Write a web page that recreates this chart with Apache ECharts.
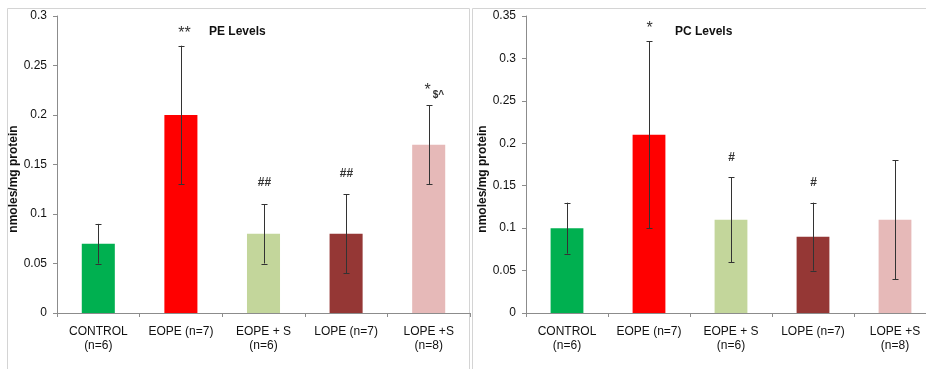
<!DOCTYPE html>
<html>
<head>
<meta charset="utf-8">
<script src="https://cdn.jsdelivr.net/npm/echarts@6/dist/echarts.min.js"></script>
<style>
html,body{margin:0;padding:0;background:#fff;overflow:hidden;}
#main{width:940px;height:369px;}
</style>
</head>
<body>
<div id="main"></div>
<script>
// ---- data ----
var categories = ['CONTROL\n(n=6)', 'EOPE (n=7)', 'EOPE + S\n(n=6)', 'LOPE (n=7)', 'LOPE +S\n(n=8)'];
var barColors = ['#00B050', '#FF0000', '#C3D69B', '#953735', '#E6B9B8'];

var peMeans = [0.07, 0.20, 0.08, 0.08, 0.17];
var peErr   = [0.02, 0.07, 0.03, 0.04, 0.04];
var peMarks = ['', '**', '##', '##', '*'];
var peSub   = ['', '', '', '', '$^'];

var pcMeans = [0.10, 0.21, 0.11, 0.09, 0.11];
var pcErr   = [0.03, 0.11, 0.05, 0.04, 0.07];
var pcMarks = ['', '*', '#', '#', ''];
var pcSub   = ['', '', '', '', ''];

var peTicks = [0, 0.05, 0.1, 0.15, 0.2, 0.25, 0.3];
var pcTicks = [0, 0.05, 0.1, 0.15, 0.2, 0.25, 0.3, 0.35];

// ---- styling (pixel offsets of annotation marks above error-bar tops) ----
var peMarkOffset = [0, 15, 21, 21, 18];
var pcMarkOffset = [0, 16, 20, 20, 0];

var FONT = '"Liberation Sans", Arial, sans-serif';
var AXIS_COLOR = '#8c8c8c';

function barData(means) {
  return means.map(function (v, i) {
    return { value: v, itemStyle: { color: barColors[i] } };
  });
}
function errData(means, errs, marks, subs) {
  return means.map(function (v, i) {
    return [i, v - errs[i], v + errs[i], marks[i], subs[i]];
  });
}
function makeErrRender(offsets) {
  return function (params, api) {
    var i = api.value(0);
    var lo = api.coord([i, api.value(1)]);
    var hi = api.coord([i, api.value(2)]);
    var x = Math.round(lo[0]) + 0.5;
    var cap = 3;
    var stroke = { stroke: '#333', lineWidth: 1 };
    var children = [
      { type: 'line', shape: { x1: x, y1: lo[1], x2: x, y2: hi[1] }, style: stroke },
      { type: 'line', shape: { x1: x - cap, y1: Math.round(lo[1]) + 0.5, x2: x + cap, y2: Math.round(lo[1]) + 0.5 }, style: stroke },
      { type: 'line', shape: { x1: x - cap, y1: Math.round(hi[1]) + 0.5, x2: x + cap, y2: Math.round(hi[1]) + 0.5 }, style: stroke }
    ];
    var mark = api.value(3);
    var sub = api.value(4);
    var idx = params.dataIndex;
    if (mark) {
      var isStar = mark.indexOf('*') >= 0;
      var yy = hi[1] - offsets[idx];
      var mx = sub ? x - 2 : x + (mark === '**' ? 3 : 0);
      children.push({
        type: 'text',
        style: {
          text: mark, x: mx, y: yy + (isStar ? 3 : 0),
          textAlign: 'center', textVerticalAlign: 'middle',
          font: (isStar ? 'normal 16px ' : 'bold 12px ') + FONT,
          fill: '#333'
        }
      });
      if (sub) {
        children.push({
          type: 'text',
          style: {
            text: sub, x: mx + 11, y: yy + 8,
            textAlign: 'center', textVerticalAlign: 'middle',
            font: 'bold 10px ' + FONT, fill: '#333'
          }
        });
      }
    }
    return { type: 'group', children: children };
  };
}

function yAxisCfg(gridIndex, max) {
  return {
    type: 'value', gridIndex: gridIndex, min: 0, max: max, interval: 0.05,
    name: 'nmoles/mg protein', nameLocation: 'middle', nameGap: 30,
    nameTextStyle: { fontFamily: FONT, fontSize: 12, fontWeight: 'bold', color: '#111', padding: [0, 29, 0, 0] },
    axisLine: { show: true, lineStyle: { color: AXIS_COLOR, width: 1 } },
    axisTick: { show: true, length: 4, lineStyle: { color: AXIS_COLOR } },
    axisLabel: {
      margin: 10, fontFamily: FONT, fontSize: 12, color: '#111',
      formatter: function (v) { return String(+v.toFixed(2)); }
    },
    splitLine: { show: false }
  };
}
function xAxisCfg(gridIndex) {
  return {
    type: 'category', gridIndex: gridIndex, data: categories,
    axisLine: { lineStyle: { color: AXIS_COLOR, width: 1 } },
    axisTick: { show: true, length: 4, lineStyle: { color: AXIS_COLOR } },
    axisLabel: { interval: 0, margin: 12, fontFamily: FONT, fontSize: 12, lineHeight: 14, color: '#111' }
  };
}

var chart = echarts.init(document.getElementById('main'), null, { renderer: 'canvas' });
chart.setOption({
  animation: false,
  backgroundColor: '#fff',
  graphic: [
    { type: 'rect', z: -10, shape: { x: 7.5, y: 8.5, width: 462, height: 400 }, style: { fill: 'none', stroke: '#d4d4d4', lineWidth: 1 } },
    { type: 'rect', z: -10, shape: { x: 472.5, y: 8.5, width: 500, height: 400 }, style: { fill: 'none', stroke: '#d4d4d4', lineWidth: 1 } }
  ],
  title: [
    { text: 'PE Levels', left: 204, top: 21, textStyle: { fontFamily: FONT, fontSize: 12, fontWeight: 'bold', color: '#111' } },
    { text: 'PC Levels', left: 670, top: 21, textStyle: { fontFamily: FONT, fontSize: 12, fontWeight: 'bold', color: '#111' } }
  ],
  grid: [
    { left: 57, top: 16, width: 413, height: 297 },
    { left: 526, top: 16, width: 410, height: 297 }
  ],
  xAxis: [xAxisCfg(0), xAxisCfg(1)],
  yAxis: [yAxisCfg(0, peTicks[peTicks.length - 1]), yAxisCfg(1, pcTicks[pcTicks.length - 1])],
  series: [
    { type: 'bar', xAxisIndex: 0, yAxisIndex: 0, barWidth: '40%', data: barData(peMeans) },
    { type: 'custom', xAxisIndex: 0, yAxisIndex: 0, z: 5, renderItem: makeErrRender(peMarkOffset),
      encode: { x: 0, y: [1, 2] }, data: errData(peMeans, peErr, peMarks, peSub) },
    { type: 'bar', xAxisIndex: 1, yAxisIndex: 1, barWidth: '40%', data: barData(pcMeans) },
    { type: 'custom', xAxisIndex: 1, yAxisIndex: 1, z: 5, renderItem: makeErrRender(pcMarkOffset),
      encode: { x: 0, y: [1, 2] }, data: errData(pcMeans, pcErr, pcMarks, pcSub) }
  ]
});
</script>
</body>
</html>
